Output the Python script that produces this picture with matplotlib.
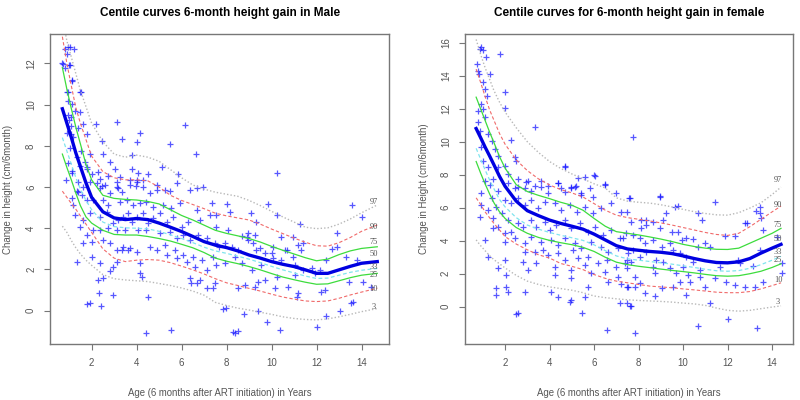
import matplotlib
matplotlib.use('Agg')
import matplotlib.pyplot as plt

# centile labels, top to bottom
centiles = ["97", "90", "75", "50", "33", "25", "10", "3"]

# ---- male panel: (age, 6-month height gain)
m_points = [
    (0.81, 12.7), (1.03, 12.78), (1.21, 12.7), (0.89, 12.46), (0.74, 11.97), (1.01, 11.94),
    (0.81, 11.8), (1.12, 11.17), (0.89, 10.6), (1.51, 10.6), (0.96, 10.2), (1.26, 9.71),
    (1.07, 9.4), (1.63, 9.07), (2.19, 9.07), (3.11, 9.15), (6.15, 9.03), (1.07, 8.58),
    (1.18, 8.42), (1.78, 8.58), (4.15, 8.61), (3.33, 8.32), (4.03, 8.17), (5.48, 8.08),
    (2.44, 8.22), (1.55, 7.77), (1.92, 7.6), (2.52, 7.58), (3.78, 7.56), (6.62, 7.61),
    (2.81, 7.2), (1.48, 7.04), (1.78, 6.88), (5.11, 6.96), (3.04, 6.88), (3.78, 6.88),
    (2.3, 6.72), (2.0, 6.64), (4.08, 6.67), (4.52, 6.64), (2.74, 6.56), (3.26, 6.48),
    (5.85, 6.64), (2.37, 6.4), (3.11, 6.24), (3.7, 6.32), (4.03, 6.32), (4.3, 6.32),
    (3.97, 6.07), (2.44, 6.07), (4.89, 5.86), (5.48, 5.83), (6.67, 5.96), (3.18, 5.96),
    (1.11, 6.8), (1.41, 6.24), (0.86, 6.32), (1.33, 5.83),
    (0.67, 12.0), (0.96, 12.8), (1.04, 11.93), (0.96, 10.63), (1.11, 11.2), (1.11, 10.04),
    (0.96, 9.5), (1.0, 9.25), (1.07, 8.96), (0.89, 8.61), (1.4, 8.85), (1.48, 9.66),
    (1.48, 10.63), (1.04, 7.88), (0.96, 7.16), (1.11, 6.67), (1.33, 7.48), (1.7, 7.23),
    (1.81, 6.95), (1.4, 5.78), (1.63, 6.02), (1.92, 6.26),
    (1.56, 5.62), (1.11, 5.45), (1.18, 5.13), (1.78, 5.37), (2.22, 6.18), (2.37, 5.94),
    (2.59, 6.1), (2.81, 5.7), (3.11, 6.02), (3.33, 5.78), (3.7, 6.1), (4.0, 6.26),
    (4.3, 6.02), (4.59, 5.7), (4.89, 6.1), (5.26, 5.86), (5.78, 6.18), (6.37, 5.86),
    (6.96, 6.02), (7.33, 5.21), (2.07, 5.37), (2.52, 5.37), (2.74, 5.13), (3.26, 5.29),
    (3.56, 5.37), (3.85, 5.13), (4.15, 5.21), (4.44, 5.29), (4.74, 5.05), (5.18, 5.13),
    (5.55, 4.97), (5.93, 5.21), (6.67, 4.89), (1.26, 4.65), (1.63, 4.4), (1.93, 4.73),
    (2.37, 4.56), (2.67, 4.81), (2.96, 4.24), (3.18, 4.4), (3.41, 4.56), (3.63, 4.73),
    (3.78, 4.32), (4.0, 4.56), (4.3, 4.73), (4.52, 4.24), (4.74, 4.48), (5.04, 4.73),
    (5.33, 4.32), (5.63, 4.56), (6.0, 4.08), (6.3, 4.32), (6.81, 4.4), (7.26, 4.65),
    (7.55, 4.08), (1.48, 4.08), (1.78, 3.67), (2.07, 3.91), (2.37, 3.91), (2.74, 4.0),
    (3.11, 3.91), (3.48, 3.91), (4.07, 3.91), (4.44, 3.91), (5.04, 3.75), (5.48, 3.83),
    (5.78, 3.51), (6.07, 3.67), (6.37, 3.43), (6.74, 3.67), (7.11, 3.51), (7.48, 3.27),
    (1.63, 3.27), (2.0, 3.35), (2.52, 3.43), (2.81, 3.27), (3.11, 2.94), (3.41, 3.11),
    (3.7, 3.03), (4.0, 2.86), (4.59, 3.11), (4.89, 2.94), (5.26, 3.19), (5.7, 2.94),
    (6.07, 2.7), (6.52, 2.62), (6.89, 2.46), (7.41, 2.62), (1.33, 2.38), (2.0, 2.62),
    (2.37, 2.3), (3.11, 2.38), (3.33, 2.94), (3.63, 2.94), (4.15, 2.3), (5.33, 2.7),
    (5.78, 2.54), (6.22, 2.38), (6.59, 2.14), (7.11, 1.98), (7.55, 2.22), (2.96, 2.14),
    (2.81, 1.9), (4.15, 1.81), (4.22, 1.65), (2.3, 1.49), (2.52, 1.57), (6.37, 1.57),
    (6.67, 1.33), (7.11, 1.08), (7.48, 1.33), (2.34, 0.84), (2.96, 0.76), (1.93, 0.39),
    (2.41, 0.23), (1.78, 0.32), (4.52, 0.65), (4.44, -1.09), (5.55, -0.93),
    (6.44, 1.33), (6.81, 1.49), (7.41, 1.09), (7.97, 0.12), (8.37, -1.1), (8.52, -0.97),
    (10.22, 6.67), (9.85, 5.18), (8.0, 5.18), (8.15, 4.81), (7.55, 4.64), (9.08, 4.73),
    (9.33, 4.32), (10.22, 4.64), (11.26, 4.2), (13.58, 5.13), (14.04, 4.56), (12.93, 3.79),
    (12.7, 2.98), (13.78, 2.46), (13.44, 1.41), (14.41, 1.14), (13.55, 0.36), (13.04, 0.0),
    (12.44, -0.26), (12.0, -0.8), (11.15, 0.68), (11.18, 0.84), (10.37, -0.92), (9.78, -0.55),
    (9.41, 0.0), (8.78, -0.14), (8.3, -1.02), (7.85, 0.07), (7.93, 2.3), (8.37, 2.62),
    (8.67, 2.3), (8.89, 3.59), (8.96, 3.43), (9.19, 3.27), (9.48, 3.03), (9.7, 2.78),
    (10.0, 2.78), (10.07, 2.54), (10.44, 2.46), (10.67, 2.95), (10.96, 2.62), (11.04, 2.22),
    (11.33, 2.95), (11.78, 2.06), (12.15, 1.98), (12.44, 2.46), (11.93, 1.81), (12.22, 0.92),
    (12.37, 1.0), (10.74, 1.17), (10.15, 1.09), (10.22, 1.65), (9.7, 1.49), (9.41, 1.41),
    (9.26, 1.17), (8.81, 1.25), (8.52, 1.09), (9.55, 2.22), (9.11, 1.98), (11.04, 1.73),
    (11.41, 1.98), (7.66, 3.11), (7.93, 3.27), (8.22, 3.11), (8.52, 2.95), (8.96, 3.75),
    (9.26, 3.67), (9.33, 2.95), (10.07, 3.11), (10.44, 3.59), (10.59, 2.95), (11.41, 3.27),
    (10.96, 3.59), (8.67, 3.63), (8.07, 3.91), (11.18, 3.19),
    (14.07, 1.41), (13.63, 0.44), (12.89, 3.11), (13.33, 2.62),
]

m_grid = [0.7, 0.9, 1.1, 1.3, 1.5, 1.75, 2.0, 2.5, 3.0, 3.5, 4.0, 4.5, 5.0, 5.5, 6.0, 6.5,
          7.0, 7.5, 8.0, 8.5, 9.0, 9.5, 10.0, 10.5, 11.0, 11.5, 12.0, 12.5, 13.0, 13.5, 14.0, 14.7]
m_c97 = [14.2, 13.1, 12.3, 11.5, 10.7, 9.9, 9.1, 8.2, 7.6, 7.45, 7.55, 7.45, 7.25, 6.85, 6.45, 6.1,
         5.9, 5.75, 5.65, 5.55, 5.35, 5.1, 4.82, 4.55, 4.3, 4.05, 3.98, 4.02, 4.2, 4.45, 4.75, 5.13]
m_c90 = [13.3, 12.0, 10.9, 9.85, 9.1, 8.3, 7.5, 6.75, 6.45, 6.35, 6.35, 6.3, 6.0, 5.6, 5.35, 5.15,
         4.95, 4.73, 4.6, 4.5, 4.4, 4.2, 3.96, 3.74, 3.52, 3.32, 3.15, 3.13, 3.3, 3.55, 3.85, 4.16]
m_c75 = [11.8, 10.75, 9.8, 8.9, 8.1, 7.1, 6.35, 5.6, 5.45, 5.4, 5.37, 5.3, 5.18, 4.9, 4.62, 4.4,
         4.15, 3.9, 3.75, 3.63, 3.5, 3.33, 3.12, 2.93, 2.75, 2.57, 2.42, 2.5, 2.72, 2.9, 3.02, 3.1]
m_c50 = [9.8, 9.1, 8.4, 7.65, 7.0, 6.2, 5.5, 4.8, 4.5, 4.42, 4.47, 4.42, 4.25, 4.05, 3.84, 3.6,
         3.35, 3.18, 3.06, 2.9, 2.7, 2.55, 2.38, 2.25, 2.14, 1.98, 1.81, 1.81, 1.98, 2.15, 2.3, 2.38]
m_c33 = [8.4, 7.75, 7.1, 6.45, 5.9, 5.35, 4.9, 4.3, 4.08, 4.02, 4.0, 3.97, 3.85, 3.68, 3.5, 3.3,
         3.08, 2.9, 2.78, 2.64, 2.5, 2.33, 2.15, 1.98, 1.83, 1.68, 1.56, 1.58, 1.72, 1.86, 1.96, 2.05]
m_c25 = [7.6, 6.95, 6.34, 5.7, 5.1, 4.55, 4.25, 3.9, 3.7, 3.67, 3.67, 3.6, 3.5, 3.38, 3.22, 3.05,
         2.82, 2.55, 2.4, 2.28, 2.14, 1.98, 1.8, 1.63, 1.5, 1.38, 1.28, 1.3, 1.45, 1.6, 1.72, 1.81]
m_c10 = [5.8, 5.5, 5.2, 4.92, 4.6, 4.2, 3.8, 3.0, 2.55, 2.38, 2.45, 2.48, 2.45, 2.33, 2.16, 1.98,
         1.78, 1.55, 1.35, 1.22, 1.08, 0.95, 0.8, 0.66, 0.56, 0.47, 0.44, 0.47, 0.6, 0.76, 0.9, 1.09]
m_c3 = [4.1, 3.8, 3.4, 3.05, 2.75, 2.45, 2.2, 1.75, 1.55, 1.49, 1.45, 1.41, 1.32, 1.22, 1.1, 0.95,
        0.75, 0.4, 0.25, 0.12, 0.03, -0.08, -0.18, -0.3, -0.38, -0.43, -0.45, -0.4, -0.3, -0.18, -0.05, 0.1]
m_lab_y = [5.29, 4.08, 3.35, 2.74, 2.14, 1.73, 1.04, 0.19]

# ---- female panel
f_points = [
    (0.94, 15.72), (1.01, 15.56), (0.86, 15.62), (1.76, 15.32), (1.16, 15.11), (0.76, 14.71),
    (0.79, 14.31), (0.82, 14.1), (1.31, 14.1), (1.01, 13.6), (1.09, 13.2), (1.99, 12.99),
    (1.21, 12.79), (0.9, 12.28), (1.99, 12.04), (0.79, 11.84), (1.01, 11.98), (1.09, 11.48),
    (3.33, 10.87), (0.79, 11.17), (0.86, 10.67), (1.24, 10.47), (1.39, 10.06), (2.28, 10.1),
    (0.94, 9.66), (1.54, 9.55), (1.69, 9.15), (1.01, 8.85), (2.43, 9.05), (2.51, 8.85),
    (1.24, 8.44), (1.69, 8.44), (1.99, 8.54), (4.68, 8.54), (5.28, 7.83), (6.03, 7.93),
    (6.48, 7.42), (4.38, 7.52), (3.63, 7.63), (3.03, 7.63), (2.58, 7.73), (2.14, 8.03),
    (1.46, 7.73), (1.09, 7.63), (2.43, 7.22), (2.88, 7.18), (3.33, 7.32), (3.93, 7.32),
    (4.53, 7.18), (4.98, 7.22), (3.18, 7.02), (1.69, 7.02),
    (7.75, 10.3), (4.68, 8.48), (5.99, 7.98), (5.58, 7.84), (4.98, 7.27), (5.2, 7.3),
    (7.6, 6.57), (8.95, 6.67), (5.43, 6.87), (5.96, 6.67),
    (1.31, 7.38), (0.94, 6.87), (1.39, 6.57), (2.14, 7.47), (2.58, 7.27), (2.96, 7.58),
    (3.63, 7.27), (3.93, 6.87), (4.38, 7.47), (4.68, 6.97), (5.13, 7.27), (5.43, 6.77),
    (5.81, 7.17), (6.48, 7.38), (7.0, 6.87), (0.94, 6.16), (1.24, 5.86), (1.61, 6.06),
    (1.99, 6.47), (2.28, 6.26), (2.58, 6.57), (2.88, 6.16), (3.18, 6.47), (3.48, 5.96),
    (3.78, 6.36), (4.23, 6.26), (4.53, 5.86), (4.91, 6.16), (5.21, 5.76), (5.58, 6.06),
    (5.96, 5.66), (6.33, 5.96), (6.78, 6.26), (7.23, 5.76), (0.86, 5.46), (1.46, 5.36),
    (1.84, 5.66), (2.14, 5.25), (1.69, 4.85), (1.46, 4.75), (1.99, 4.44), (2.28, 4.54),
    (2.58, 5.05), (2.81, 4.85), (3.18, 5.25), (3.41, 4.85), (3.78, 5.15), (4.01, 4.65),
    (4.31, 4.95), (4.68, 5.25), (4.98, 4.75), (5.36, 5.05), (5.73, 4.54), (6.03, 4.85),
    (6.41, 4.34), (6.78, 4.65), (7.15, 4.14), (7.45, 4.44), (1.09, 4.04), (1.99, 3.94),
    (2.43, 4.14), (2.88, 3.84), (3.18, 4.24), (3.63, 3.94), (4.08, 4.04), (4.38, 3.74),
    (4.68, 4.14), (5.13, 3.84), (5.43, 3.54), (5.88, 3.94), (6.33, 3.64), (6.63, 3.33),
    (7.08, 3.54), (7.53, 3.23), (1.24, 3.03), (2.88, 3.33), (3.33, 3.33), (3.71, 3.43),
    (3.93, 3.13), (4.38, 3.23), (4.68, 2.83), (5.06, 3.43), (5.28, 2.93), (5.73, 3.03),
    (6.18, 2.63), (6.56, 2.83), (7.0, 2.42), (7.38, 2.63), (1.99, 2.83), (1.69, 2.32),
    (2.81, 2.73), (3.03, 2.22), (3.41, 2.63), (4.23, 2.38), (4.98, 2.22), (5.58, 2.52),
    (5.88, 2.02), (6.48, 2.12), (7.08, 1.82), (2.06, 1.92), (4.23, 1.92), (4.98, 1.72),
    (6.63, 1.52), (7.23, 1.38), (7.53, 1.21), (1.61, 1.11), (2.06, 1.21), (1.61, 0.71),
    (2.14, 0.91), (2.88, 0.91), (4.08, 0.91), (4.38, 0.61), (4.98, 0.4), (5.58, 0.61),
    (5.73, 1.21), (2.58, -0.4), (2.51, -0.46), (5.47, -0.36), (6.58, -1.41),
    (7.83, -1.61), (10.67, -1.17), (12.02, -0.77), (13.3, -1.27), (11.2, 0.2), (7.46, 0.2),
    (7.68, 0.04), (4.91, 0.3),
    (8.98, 6.73), (11.43, 6.33), (7.57, 6.57), (7.46, 5.76), (9.63, 6.06), (9.78, 6.1),
    (9.25, 5.66), (10.68, 5.66), (10.83, 5.25), (9.1, 5.25), (8.13, 5.25), (8.35, 5.25),
    (8.65, 5.15), (7.68, 5.15), (8.13, 4.8), (8.35, 4.95), (8.95, 4.8), (9.48, 4.54),
    (9.78, 4.54), (10.15, 4.14), (10.45, 4.08), (9.93, 4.04), (10.68, 3.64), (10.98, 3.84),
    (11.2, 3.64), (11.88, 4.28), (12.33, 4.28), (12.78, 5.05), (13.27, 5.82), (13.45, 6.06),
    (13.45, 5.66), (13.6, 4.65), (13.45, 3.43), (14.43, 2.63), (14.2, 4.24), (13.15, 2.47),
    (12.55, 2.63), (12.48, 2.83), (11.65, 2.42), (10.75, 2.22), (10.45, 2.73), (10.15, 3.03),
    (10.0, 2.42), (9.7, 2.02), (9.4, 2.32), (9.1, 2.73), (8.8, 2.83), (8.65, 2.42),
    (8.35, 3.33), (8.05, 3.03), (7.76, 3.43), (7.46, 2.83), (7.31, 4.14), (7.76, 4.34),
    (8.05, 4.14), (8.28, 3.84), (8.65, 4.04), (9.03, 3.64), (9.4, 3.84), (9.55, 3.43),
    (9.85, 3.23), (10.22, 1.92), (10.3, 1.52), (9.85, 1.52), (9.55, 1.21), (9.03, 1.11),
    (8.28, 0.81), (7.83, 1.21), (7.46, 1.21), (8.05, 1.42), (8.73, 2.02), (7.83, 1.82),
    (10.75, 1.82), (10.98, 1.21), (11.43, 1.72), (11.95, 1.52), (12.33, 1.31), (12.78, 1.21),
    (13.22, 1.21), (13.6, 1.52), (14.43, 2.02), (7.6, 0.06), (7.16, 0.2), (10.15, 0.71),
    (8.73, 0.65), (7.46, 2.32), (7.68, 2.73), (13.52, 5.36), (12.85, 5.05),
]

f_grid = [0.7, 0.9, 1.1, 1.3, 1.5, 1.75, 2.0, 2.5, 3.0, 3.5, 4.0, 4.5, 5.0, 5.5, 6.0, 6.5,
          7.0, 7.5, 8.0, 8.5, 9.0, 9.5, 10.0, 10.5, 11.0, 11.5, 12.0, 12.5, 13.0, 13.5, 14.0, 14.4]
f_c97 = [16.2, 15.3, 14.5, 13.8, 13.1, 12.4, 11.8, 10.85, 10.0, 9.35, 8.8, 8.38, 8.05, 7.75, 7.45, 7.2,
         6.6, 6.4, 6.33, 6.28, 6.18, 6.05, 5.9, 5.76, 5.65, 5.57, 5.55, 5.7, 5.98, 6.3, 6.8, 7.25]
f_c90 = [14.4, 13.6, 12.75, 11.95, 11.3, 10.5, 9.85, 8.9, 8.25, 7.75, 7.38, 7.1, 6.9, 6.65, 6.25, 5.85,
         5.55, 5.4, 5.3, 5.2, 5.08, 4.95, 4.8, 4.65, 4.5, 4.38, 4.32, 4.45, 4.85, 5.3, 5.75, 6.1]
f_c75 = [12.7, 12.0, 11.3, 10.6, 9.95, 9.1, 8.4, 7.4, 6.98, 6.75, 6.55, 6.33, 6.15, 5.85, 5.35, 4.88,
         4.55, 4.45, 4.35, 4.23, 4.1, 3.95, 3.78, 3.65, 3.55, 3.48, 3.47, 3.55, 3.85, 4.15, 4.45, 4.75]
f_c50 = [10.8, 10.25, 9.68, 9.15, 8.6, 7.9, 7.3, 6.4, 5.82, 5.52, 5.25, 5.05, 4.88, 4.7, 4.4, 4.05,
         3.7, 3.5, 3.42, 3.35, 3.3, 3.22, 3.08, 2.92, 2.78, 2.68, 2.66, 2.72, 2.92, 3.25, 3.55, 3.78]
f_c33 = [9.6, 8.95, 8.3, 7.7, 7.15, 6.5, 6.05, 5.4, 4.95, 4.7, 4.5, 4.33, 4.18, 4.02, 3.75, 3.4,
         3.08, 2.9, 2.82, 2.74, 2.66, 2.58, 2.48, 2.38, 2.27, 2.18, 2.15, 2.19, 2.33, 2.55, 2.82, 3.05]
f_c25 = [8.8, 8.1, 7.45, 6.85, 6.3, 5.75, 5.35, 4.8, 4.45, 4.2, 4.02, 3.88, 3.76, 3.6, 3.35, 3.0,
         2.7, 2.55, 2.45, 2.37, 2.28, 2.2, 2.13, 2.05, 1.96, 1.88, 1.85, 1.88, 2.0, 2.15, 2.38, 2.6]
f_c10 = [6.6, 6.2, 5.75, 5.4, 5.05, 4.65, 4.25, 3.8, 3.45, 3.15, 2.95, 2.62, 2.45, 2.25, 1.95, 1.72,
         1.55, 1.45, 1.35, 1.25, 1.2, 1.15, 1.08, 1.02, 0.95, 0.88, 0.85, 0.85, 0.92, 1.08, 1.28, 1.45]
f_c3 = [4.05, 3.7, 3.4, 3.1, 2.85, 2.6, 2.35, 1.9, 1.55, 1.35, 1.2, 1.1, 1.0, 0.85, 0.65, 0.55,
        0.48, 0.42, 0.38, 0.35, 0.32, 0.28, 0.22, 0.17, 0.08, -0.08, -0.22, -0.27, -0.22, -0.12, -0.02, 0.05]
f_lab_y = [7.68, 6.16, 4.95, 4.08, 3.33, 2.83, 1.62, 0.3]

# line look for each centile (same order as centiles)
styles = [
    dict(color='#b8b8b8', ls=(0, (1, 1.5)), lw=1.0),
    dict(color='#f06a6a', ls=(0, (3, 2)), lw=0.8),
    dict(color='#3ddc3d', ls='-', lw=0.9),
    dict(color='#0000e0', ls='-', lw=2.4),
    dict(color='#80e4ee', ls=(0, (3, 2)), lw=0.9),
    dict(color='#3ddc3d', ls='-', lw=0.9),
    dict(color='#f06a6a', ls=(0, (3, 2)), lw=0.8),
    dict(color='#b8b8b8', ls=(0, (1, 1.5)), lw=1.0),
]

plt.rcParams['font.family'] = ['Liberation Sans', 'DejaVu Sans']
GREY = '#555555'


def draw_panel(ax, points, grid, curves, lab_x, lab_y, title, ylabel, xlim, ylim, yticks):
    xs = [p[0] for p in points]
    ys = [p[1] for p in points]
    ax.plot(xs, ys, ls='none', marker='+', ms=5, mew=0.9, color='#1010ff', alpha=0.7)
    for vals, st in zip(curves, styles):
        ax.plot(grid, vals, **st)
    for lab, y in zip(centiles, lab_y):
        ax.text(lab_x, y, lab, family='Liberation Serif', fontsize=6, color=GREY,
                ha='center', va='center')
    ax.set_xlim(xlim)
    ax.set_ylim(ylim)
    ax.set_xticks([2, 4, 6, 8, 10, 12, 14])
    ax.set_yticks(yticks)
    ax.tick_params(direction='out', length=4, width=0.8, color='#777777',
                   labelcolor=GREY, labelsize=7, pad=6)
    for lbl in ax.get_yticklabels():
        lbl.set_rotation(90)
        lbl.set_va('center')
    for sp in ax.spines.values():
        sp.set_color('#777777')
        sp.set_linewidth(1.0)
    ax.set_title(title, fontsize=8.5, fontweight='bold', pad=13)
    ax.set_xlabel('Age (6 months after ART initiation) in Years', fontsize=6.9, color=GREY)
    ax.set_ylabel(ylabel, fontsize=6.9, color=GREY)
    ax.xaxis.set_label_coords(0.5, -0.142)


fig = plt.figure(figsize=(8, 4), dpi=100)
ax1 = fig.add_axes([0.0625, 0.14, 0.424, 0.775])
ax2 = fig.add_axes([0.581, 0.14, 0.41, 0.775])

draw_panel(ax1, m_points, m_grid, [m_c97, m_c90, m_c75, m_c50, m_c33, m_c25, m_c10, m_c3],
           14.55, m_lab_y, 'Centile curves 6-month height gain in Male',
           'Change in height (cm/6month)', (0.15, 15.23), (-1.62, 13.43), [0, 2, 4, 6, 8, 10, 12])
ax1.yaxis.set_label_coords(-0.11, 0.5)

draw_panel(ax2, f_points, f_grid, [f_c97, f_c90, f_c75, f_c50, f_c33, f_c25, f_c10, f_c3],
           14.27, f_lab_y, 'Centile curves for 6-month height gain in female',
           'Change in Height (cm/6month)', (0.19, 14.93), (-2.26, 16.53),
           [0, 2, 4, 6, 8, 10, 12, 14, 16])
ax2.yaxis.set_label_coords(-0.11, 0.5)

fig.savefig('out.png', dpi=100)
